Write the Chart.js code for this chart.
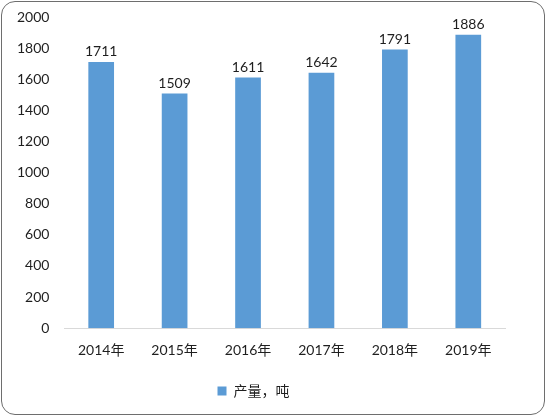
<!DOCTYPE html>
<html><head><meta charset="utf-8">
<script src="https://cdn.jsdelivr.net/npm/chart.js@4"></script>
<style>
html,body{margin:0;padding:0;background:#fff;}
#wrap{position:absolute;left:1px;top:1px;width:542px;height:412px;border:1.5px solid #6e6e6e;border-radius:14px;overflow:hidden;}
#c{position:absolute;left:0;top:0;}
</style></head><body>
<div id="wrap"></div>
<canvas id="c" width="547" height="417"></canvas>
<script>
const categories = ["2014年","2015年","2016年","2017年","2018年","2019年"];
const production = [1711,1509,1611,1642,1791,1886];
const seriesName = "产量，吨";
const yTicks = [0,200,400,600,800,1000,1200,1400,1600,1800,2000];

const FONT = "Lato, 'Noto Sans CJK SC', sans-serif";
const TXT = "#1f1f1f";

const valueLabels = {
  id: 'valueLabels',
  afterDatasetsDraw(chart) {
    const ctx = chart.ctx;
    const meta = chart.getDatasetMeta(0);
    ctx.save();
    ctx.font = "14px " + FONT;
    ctx.fillStyle = TXT;
    ctx.textAlign = 'center';
    ctx.textBaseline = 'bottom';
    meta.data.forEach((bar, i) => {
      ctx.fillText(String(production[i]), bar.x, bar.y - 3);
    });
    ctx.restore();
  }
};

new Chart(document.getElementById('c'), {
  type: 'bar',
  data: {
    labels: categories,
    datasets: [{
      label: seriesName,
      data: production,
      backgroundColor: '#5b9bd5',
      barPercentage: 0.7,
      categoryPercentage: 0.5
    }]
  },
  options: {
    responsive: false,
    animation: false,
    layout: { padding: { left: 2, right: 42, top: 17, bottom: 9 } },
    plugins: {
      legend: {
        position: 'bottom',
        labels: { font: { size: 14, family: FONT }, color: TXT, boxWidth: 9, boxHeight: 9, padding: 11 }
      },
      tooltip: { enabled: false }
    },
    scales: {
      x: {
        grid: { display: false, drawTicks: false },
        border: { display: true, color: '#d9d9d9', width: 1 },
        ticks: { font: { size: 14, family: FONT }, color: TXT, padding: 14 }
      },
      y: {
        min: 0, max: 2000,
        afterBuildTicks(axis) { axis.ticks = yTicks.map(v => ({ value: v })); },
        afterFit(scale) { scale.paddingTop = 0; },
        grid: { display: false, drawTicks: false },
        border: { display: false },
        ticks: { font: { size: 14, family: FONT }, color: TXT, padding: 15, callback: v => String(v) }
      }
    }
  },
  plugins: [valueLabels]
});
</script>
</body></html>
